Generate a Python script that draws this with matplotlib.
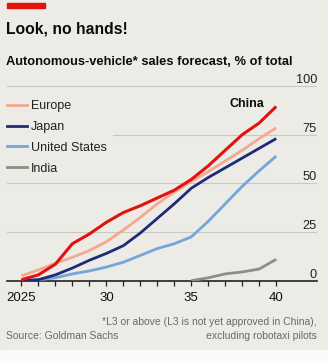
import numpy as np
import matplotlib.pyplot as plt
from matplotlib.patches import Rectangle
from matplotlib.lines import Line2D

BG = '#ecebe6'

years = np.arange(2025, 2041)
china = [0.5, 3, 8.5, 19, 24, 30, 35, 38.5, 42.5, 46.5, 52, 59, 67, 75, 81, 89.5]
europe = [2.5, 5.5, 9, 12, 15.5, 20, 26, 32.5, 39.5, 45.5, 51, 56, 61.5, 67, 73, 78.5]
japan = [0, 0.5, 3, 6.5, 10.5, 14, 18, 24.5, 32, 39.5, 47.5, 53, 58, 63, 68, 73]
usa = [0, 0.5, 1.5, 3.5, 5, 7, 9.5, 13, 16.5, 19, 22.5, 30.5, 39.5, 48.5, 56.5, 64]
india_years = np.arange(2035, 2041)
india = [0, 1.5, 3.5, 4.5, 6, 11]

yticks = [0, 25, 50, 75, 100]
xticks = [2025, 2030, 2035, 2040]
xticklabels = ['2025', '30', '35', '40']

plt.rcParams['font.family'] = ['Liberation Sans', 'DejaVu Sans']

W, H = 328, 361
fig = plt.figure(figsize=(W / 100, H / 100), dpi=100, facecolor=BG)

def fx(px):
    return px / W

def fy(py):
    return 1 - py / H

# red tag and white strip at the foot
fig.patches.append(Rectangle((fx(7), fy(8)), fx(38), 5 / H, transform=fig.transFigure,
                             color='#e3120b', zorder=5))
fig.patches.append(Rectangle((0, 0), 1, 11 / H, transform=fig.transFigure,
                             color='#fafaf8', zorder=0))

fig.text(fx(6), fy(34), 'Look, no hands!', fontsize=11.3, fontweight='bold',
         color='#0c0c0c', va='baseline')
fig.text(fx(6), fy(65), 'Autonomous-vehicle* sales forecast, % of total',
         fontsize=9.3, fontweight='bold', color='#0c0c0c', va='baseline')

ax = fig.add_axes([fx(7), fy(280.7), fx(317 - 7), (280.7 - 86) / H])
ax.set_facecolor(BG)
ax.set_xlim(2024.15, 2042.4)
ax.set_ylim(0, 100)

ax.plot(india_years, india, color='#8e8d86', lw=2, solid_capstyle='butt', zorder=3)
ax.plot(years, usa, color='#72a6dc', lw=2, solid_capstyle='butt', zorder=4)
ax.plot(years, japan, color='#1f2a78', lw=2, solid_capstyle='butt', zorder=5)
ax.plot(years, europe, color='#f5a890', lw=2, solid_capstyle='butt', zorder=6)
ax.plot(years, china, color='#e3120b', lw=2.2, solid_capstyle='butt', zorder=7)

ax.text(2039.3, china[-1] + 1, 'China', fontsize=9, fontweight='bold', color='#0c0c0c',
        ha='right', va='center')

for s in ax.spines.values():
    s.set_visible(False)
ax.set_yticks(yticks)
ax.yaxis.tick_right()
ax.tick_params(axis='y', length=0, pad=0, labelsize=9.2, labelcolor='#222222')
plt.setp(ax.get_yticklabels(), ha='right', va='bottom')
ax.grid(axis='y', color='#c8c8c2', lw=0.8)
ax.axhline(0, color='#222222', lw=1.2, zorder=2, clip_on=False)

ax.set_xticks(xticks)
ax.set_xticklabels(xticklabels)
ax.set_xticks(years, minor=True)
ax.tick_params(axis='x', which='both', length=3.5, width=0.9, color='#222222',
               labelsize=9.5, labelcolor='#111111', pad=4.5)
ax.set_axisbelow(True)

handles = [Line2D([], [], color=c, lw=2) for c in ['#f5a890', '#1f2a78', '#72a6dc', '#8e8d86']]
leg = ax.legend(handles, ['Europe', 'Japan', 'United States', 'India'],
                loc='upper left', bbox_to_anchor=(fx(0.5), fy(94)),
                bbox_transform=fig.transFigure, fontsize=9, frameon=True,
                facecolor=BG, edgecolor='none', framealpha=1, fancybox=False,
                handlelength=1.6, handletextpad=0.35, labelspacing=0.7,
                borderpad=0.5, borderaxespad=0)
for t in leg.get_texts():
    t.set_color('#222222')
leg.set_zorder(10)

note = dict(fontsize=7.5, color='#6a6a66')
fig.text(fx(317), fy(325), '*L3 or above (L3 is not yet approved in China),', ha='right',
         va='baseline', **note)
fig.text(fx(317), fy(339), 'excluding robotaxi pilots', ha='right', va='baseline', **note)
fig.text(fx(6), fy(339), 'Source: Goldman Sachs', ha='left', va='baseline', **note)

fig.savefig('out.png', dpi=100, facecolor=BG)
